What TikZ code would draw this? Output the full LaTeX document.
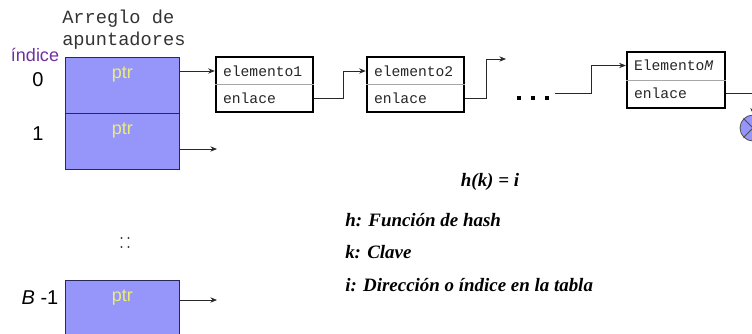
\documentclass[tikz,border=0pt]{standalone}
\usepackage{fontspec}
\setmainfont{Liberation Serif}
\setsansfont{Liberation Sans}
\setmonofont{Liberation Mono}
\usetikzlibrary{arrows.meta,calc}
\definecolor{boxfill}{RGB}{150,150,250}
\definecolor{boxline}{RGB}{40,40,90}
\definecolor{ptrcol}{RGB}{236,236,120}
\definecolor{purp}{RGB}{112,48,160}
\definecolor{conn}{RGB}{40,40,40}
\begin{document}
\begin{tikzpicture}[x=0.75pt,y=-0.75pt,
  arr/.style={-{Stealth[length=5pt,width=4pt]}, draw=conn, line width=0.6pt},
  slot/.style={draw=boxline, fill=boxfill, line width=0.6pt, minimum width=85.5pt, minimum height=42pt, inner sep=0, anchor=north west},
  ptrtxt/.style={font=\sffamily\fontsize{13.5}{14}\selectfont, text=ptrcol, inner sep=0},
  idx/.style={font=\sffamily\fontsize{15}{16}\selectfont, inner sep=0},
  ttl/.style={font=\ttfamily\fontsize{14}{16}\selectfont, inner sep=0, anchor=base west, text=black!80},
  cell/.style={draw=black, line width=1.8pt, minimum width=72.75pt, minimum height=41.25pt, inner sep=0},
  divl/.style={draw=gray!70, line width=0.6pt},
  celltxt/.style={font=\ttfamily\fontsize{11}{12}\selectfont, text=black!85, inner sep=0, anchor=west},
  formula/.style={font=\bfseries\itshape\fontsize{14.2}{16}\selectfont, inner sep=0},
  nulls/.style={circle, draw=gray!60!black, fill=boxfill, line width=0.6pt, minimum size=19.5pt, inner sep=0},
]
\useasboundingbox (0,0) rectangle (752,333);
\clip (0,0) rectangle (752,333);

% title
\node[ttl] (t1) at (62,23) {Arreglo de};
\node[ttl] (t2) at (62,45) {apuntadores};

% index labels
\node[font=\sffamily\fontsize{13.5}{14}\selectfont, text=purp, inner sep=0] (ind) at (35,55) {índice};
\node[idx] (i0) at (38,80) {0};
\node[idx] (i1) at (38,134) {1};
\node[idx] (iB) at (40,298) {\textit{B} -1};

% array slots
\node[slot] (a0) at (65,57) {};
\node[slot] (a1) at (65,113) {};
\node[slot] (aB) at (65,280) {};
\node[ptrtxt] (p0) at ($(a0.north)+(0,18)$) {ptr};
\node[ptrtxt] (p1) at ($(a1.north)+(0,18)$) {ptr};
\node[ptrtxt] (pB) at ($(aB.north)+(0,18)$) {ptr};

% vertical dots
\foreach \x/\y in {121.5/238,128.5/238,121.5/247,128.5/247}
  \fill[black!75] (\x,\y) circle (0.8pt);

% list cells
\node[cell] (e1) at (264.5,84.5) {};
\draw[divl] (e1.west) -- (e1.east);
\node[celltxt] (e1a) at ($(e1.west)+(8,-13.5)$) {elemento1};
\node[celltxt] (e1b) at ($(e1.west)+(8,13.5)$) {enlace};

\node[cell] (e2) at (415.5,84.5) {};
\draw[divl] (e2.west) -- (e2.east);
\node[celltxt] (e2a) at ($(e2.west)+(8,-13.5)$) {elemento2};
\node[celltxt] (e2b) at ($(e2.west)+(8,13.5)$) {enlace};

\node[cell, minimum width=73.5pt, minimum height=42pt] (eM) at (676,80) {};
\draw[divl] (eM.west) -- (eM.east);
\node[celltxt] (eMa) at ($(eM.west)+(8,-14.5)$) {Elemento\textit{M}};
\node[celltxt] (eMb) at ($(eM.west)+(8,13)$) {enlace};

% dots
\foreach \x in {519,533,547}
  \fill[black] (\x-1.6,96.4) rectangle ++(3.2,3.2);
\coordinate (d) at (555,93);
\coordinate (n1) at (217,149);
\coordinate (nB) at (217,300);
\coordinate (c2) at (506,59);

% null
\node[nulls] (nul) at (753,128) {};
\draw[gray!60!black, line width=0.6pt] (nul.north west) -- (nul.south east) (nul.north east) -- (nul.south west);

% connectors
\draw[arr] (a0.east |- e1a) -- (e1.west |- e1a);
\draw[arr] (a1.east |- n1) -- (n1);
\draw[arr] (aB.east |- nB) -- (nB);
\draw[arr] (e1.east |- e1b) -- ++(29,0) |- (e2.west |- e2a);
\draw[arr] (e2.east |- e2b) -- ++(21,0) |- (c2);
\draw[arr] (d) -- ++(36,0) |- (eM.west |- eMa);
\draw[arr] (eM.east |- eMb) -| (nul.north);

% formulas
\node[formula] (hk) at (490,182) {h(k) = i};
\node[formula, anchor=west] (l1) at (345,220) {h: Función de hash};
\node[formula, anchor=west] (l2) at (345,252) {k: Clave};
\node[formula, anchor=west] (l3) at (345,285) {i: Dirección o índice en la tabla};
\end{tikzpicture}
\end{document}
